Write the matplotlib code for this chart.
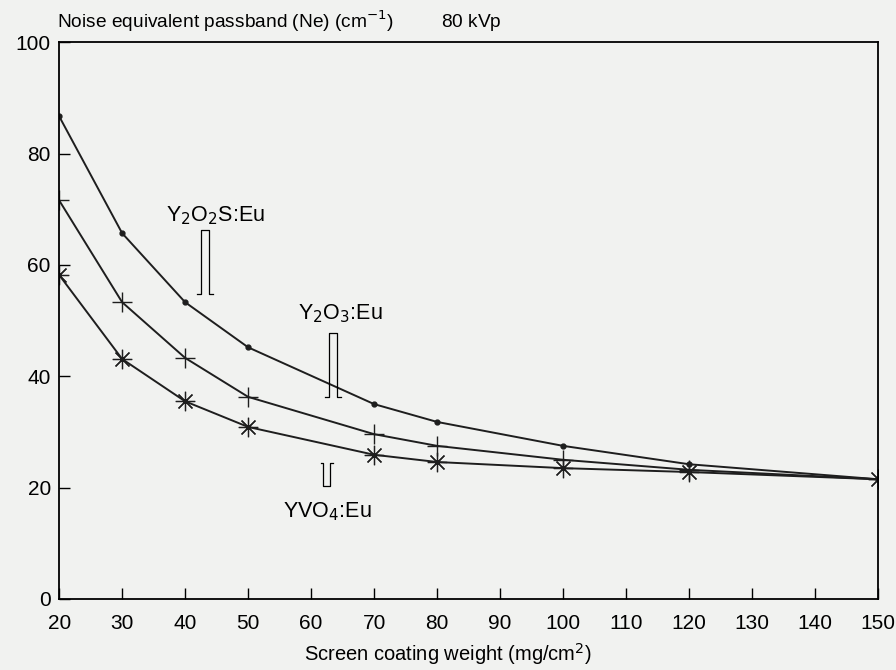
"""
Noise equivalent passband vs screen coating weight (80 kVp)
"""

import numpy as np
from matplotlib import pyplot as plt

# coating weight (mg/cm^2)
weight = [20, 30, 40, 50, 70, 80, 100, 120, 150]
# Ne (cm^-1) per phosphor
ne_y2o2s = [86.7, 65.7, 53.3, 45.2, 35.0, 31.8, 27.5, 24.2, 21.5]
ne_y2o3 = [71.6, 53.3, 43.3, 36.3, 29.6, 27.5, 25.0, 23.2, 21.5]
ne_yvo4 = [58.2, 43.1, 35.5, 30.9, 25.9, 24.6, 23.5, 22.8, 21.5]

x_ticks = list(range(20, 151, 10))
y_ticks = [0, 20, 40, 60, 80, 100]

BG = '#f1f2f0'
plt.rcParams['font.family'] = ['Liberation Sans', 'DejaVu Sans']


def bracket(ax, x, y_top, y_bot, width=1.3, foot=0.6, feet_down=True):
    """Small hanging bracket pointing from a label to its curve"""
    xs = [x - foot, x, x, x + width, x + width, x + width + foot]
    if feet_down:
        ys = [y_bot, y_bot, y_top, y_top, y_bot, y_bot]
    else:
        ys = [y_top, y_top, y_bot, y_bot, y_top, y_top]
    ax.plot(xs, ys, color='k', lw=0.9)


fig = plt.figure(figsize=(8.96, 6.70), dpi=100, facecolor=BG)
ax = fig.add_axes([0.066, 0.106, 0.914, 0.831], facecolor=BG)

ax.plot(weight, ne_y2o2s, color='#1e1e1e', lw=1.4, marker='o', ms=3.5)
ax.plot(weight, ne_y2o3, color='#1e1e1e', lw=1.4, marker='+', ms=14, mew=1.0)
ax.plot(weight, ne_yvo4, color='#1e1e1e', lw=1.4, marker=(8, 2, 0), ms=14, mew=0.9)

ax.set_xlim(20, 150)
ax.set_ylim(0, 100)
ax.set_xticks(x_ticks)
ax.set_yticks(y_ticks)
ax.tick_params(direction='in', length=8, width=1, labelsize=15, colors='k')
ax.tick_params(axis='x', pad=11)
ax.tick_params(axis='y', pad=6)
for side in ['top', 'right', 'left', 'bottom']:
    ax.spines[side].set_linewidth(1.3)

fig.text(0.5, 0.004, 'Screen coating weight (mg/cm$^2$)', fontsize=14.5, ha='center', va='bottom')
fig.text(0.064, 0.968, 'Noise equivalent passband (Ne) (cm$^{-1}$)         80 kVp', fontsize=13.8,
         ha='left', va='center')

# labels with brackets
ax.text(44.8, 68.8, 'Y$_2$O$_2$S:Eu', fontsize=15.5, ha='center', va='center')
bracket(ax, 42.5, 66.3, 54.8)
ax.text(64.6, 51.3, 'Y$_2$O$_3$:Eu', fontsize=15.5, ha='center', va='center')
bracket(ax, 62.8, 47.8, 36.3)
ax.text(62.6, 15.7, 'YVO$_4$:Eu', fontsize=15.5, ha='center', va='center')
bracket(ax, 61.9, 24.4, 20.3, width=1.1, foot=0.4, feet_down=False)

fig.savefig('out.png', dpi=100, facecolor=BG)
